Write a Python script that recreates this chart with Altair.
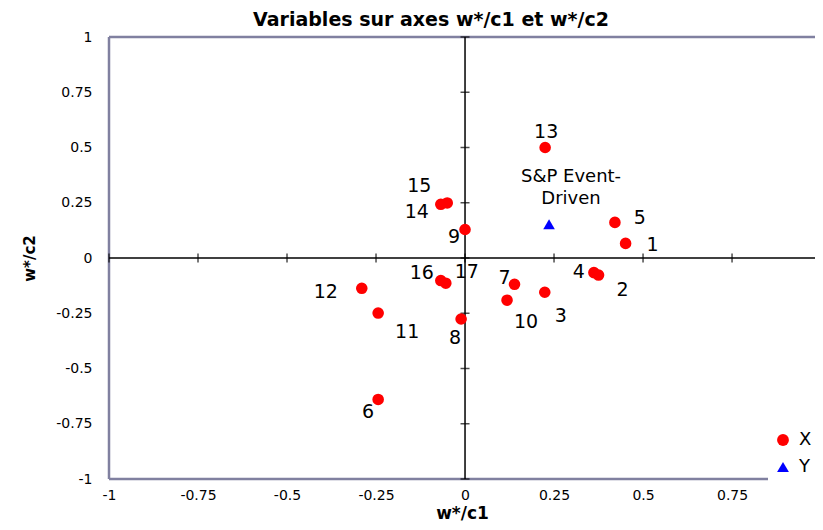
import altair as alt
import pandas as pd

# ---- data ----
x_names = ["1", "2", "3", "4", "5", "6", "7", "8", "9", "10",
           "11", "12", "13", "14", "15", "16", "17"]
x_c1 = [0.451, 0.375, 0.224, 0.362, 0.421, -0.244, 0.139, -0.011, 0.0, 0.118,
        -0.244, -0.290, 0.225, -0.068, -0.050, -0.068, -0.054]
x_c2 = [0.066, -0.077, -0.155, -0.066, 0.161, -0.640, -0.119, -0.276, 0.129, -0.191,
        -0.249, -0.137, 0.500, 0.243, 0.249, -0.102, -0.114]
y_names = ["S&P Event-\nDriven"]
y_c1 = [0.236]
y_c2 = [0.153]
tick_values = [-1, -0.75, -0.5, -0.25, 0, 0.25, 0.5, 0.75, 1]
series = ["X", "Y"]

# label offsets (pixels) - layout only
offsets = {
    "1": (27, 2), "2": (24, 15), "3": (16, 24), "4": (-15, -1), "5": (25, -4),
    "6": (-10, 13), "7": (-10, -6), "8": (-6, 19), "9": (-11, 8), "10": (19, 22),
    "11": (29, 19), "12": (-36, 4), "13": (1, -16), "14": (-24, 8), "15": (-28, -17),
    "16": (-19, -8), "17": (21, -11), "S&P Event-\nDriven": (22, -47),
}

df = pd.DataFrame({
    "name": x_names + y_names,
    "c1": x_c1 + y_c1,
    "c2": x_c2 + y_c2,
    "serie": ["X"] * len(x_names) + ["Y"] * len(y_names),
})
df_t = pd.DataFrame({"t": tick_values, "z": [0] * len(tick_values)})

FONT = "DejaVu Sans"
FRAME = "#8080a0"
# the right part of the original plot (up to x = 1) is cut by the picture edge
xs = alt.Scale(domain=[-1, 0.983], nice=False, zero=False)
ys = alt.Scale(domain=[-1, 1], nice=False, zero=False)

xaxis = alt.Axis(values=tick_values, labelExpr="datum.value + ''", grid=False,
                 ticks=False, tickSize=0, domain=False, labelFontSize=14,
                 labelColor="black", labelFont=FONT, labelPadding=9,
                 labelOverlap=False, labelFlush=False, labelBound=False,
                 titleFontSize=17, titleFont=FONT, titleFontWeight="bold",
                 titleColor="black", titlePadding=3)
yaxis = alt.Axis(values=tick_values, labelExpr="datum.value + ''", grid=False,
                 ticks=False, tickSize=0, domain=False, labelFontSize=14,
                 labelColor="black", labelFont=FONT, labelPadding=17,
                 labelOverlap=False, labelFlush=False, labelBound=False,
                 titleFontSize=15, titleFont=FONT, titleFontWeight="bold",
                 titleColor="black", titlePadding=18)


def X(field):
    return alt.X(field, type="quantitative", scale=xs, axis=xaxis, title="w*/c1")


def Y(field):
    return alt.Y(field, type="quantitative", scale=ys, axis=yaxis, title="w*/c2")


# plot frame (top, bottom, left)
frame_h = alt.Chart(df_t).transform_filter("abs(datum.t) == 1").mark_rule(
    color=FRAME, strokeWidth=2.5).encode(y=Y("t"))
frame_v = alt.Chart(df_t).transform_filter("datum.t == -1").mark_rule(
    color=FRAME, strokeWidth=2.5).encode(x=X("t"))

# center axes lines
vline = alt.Chart(df_t).transform_filter("datum.t == 0").mark_rule(
    color="black", strokeWidth=1.5).encode(x=X("z"))
hline = alt.Chart(df_t).transform_filter("datum.t == 0").mark_rule(
    color="black", strokeWidth=1.5).encode(y=Y("z"))
hticks = alt.Chart(df_t).mark_tick(orient="vertical", size=9, thickness=1.5,
                                   color="black").encode(x=X("t"), y=Y("z"))
vticks = alt.Chart(df_t).mark_tick(orient="horizontal", size=9, thickness=1.5,
                                   color="black").encode(x=X("z"), y=Y("t"))

points = alt.Chart(df).mark_point(filled=True, opacity=1, size=135).encode(
    x=X("c1"), y=Y("c2"),
    color=alt.Color("serie:N", scale=alt.Scale(domain=series, range=["#ff0000", "#0000ff"]),
                    legend=alt.Legend(title=None, orient="none", legendX=659, legendY=388,
                                      fillColor="white", padding=6, labelFontSize=18,
                                      labelFont=FONT, labelColor="black", symbolSize=140,
                                      rowPadding=9, labelOffset=7)),
    shape=alt.Shape("serie:N", scale=alt.Scale(domain=series, range=["circle", "triangle-up"])),
)

labels = []
for name, (dx, dy) in offsets.items():
    fs = 18 if name.startswith("S&P") else 19
    labels.append(
        alt.Chart(df).transform_filter(alt.datum.name == name).mark_text(
            dx=dx, dy=dy, fontSize=fs, font=FONT, color="black",
            align="center", baseline="middle", lineBreak="\n", lineHeight=22
        ).encode(x=X("c1"), y=Y("c2"), text="name:N")
    )

chart = alt.layer(frame_h, frame_v, vline, hline, hticks, vticks, points, *labels).properties(
    width=706, height=442,
    padding={"left": 101, "top": 29, "right": 0, "bottom": 43},
    autosize=alt.AutoSizeParams(type="none"),
    title=alt.TitleParams("Variables sur axes w*/c1 et w*/c2", fontSize=19, font=FONT,
                          fontWeight="bold", color="black", anchor="middle", dx=-31,
                          offset=0),
).configure_view(stroke=None)

chart.save("out.html", embed_options={"renderer": "svg", "actions": False})
